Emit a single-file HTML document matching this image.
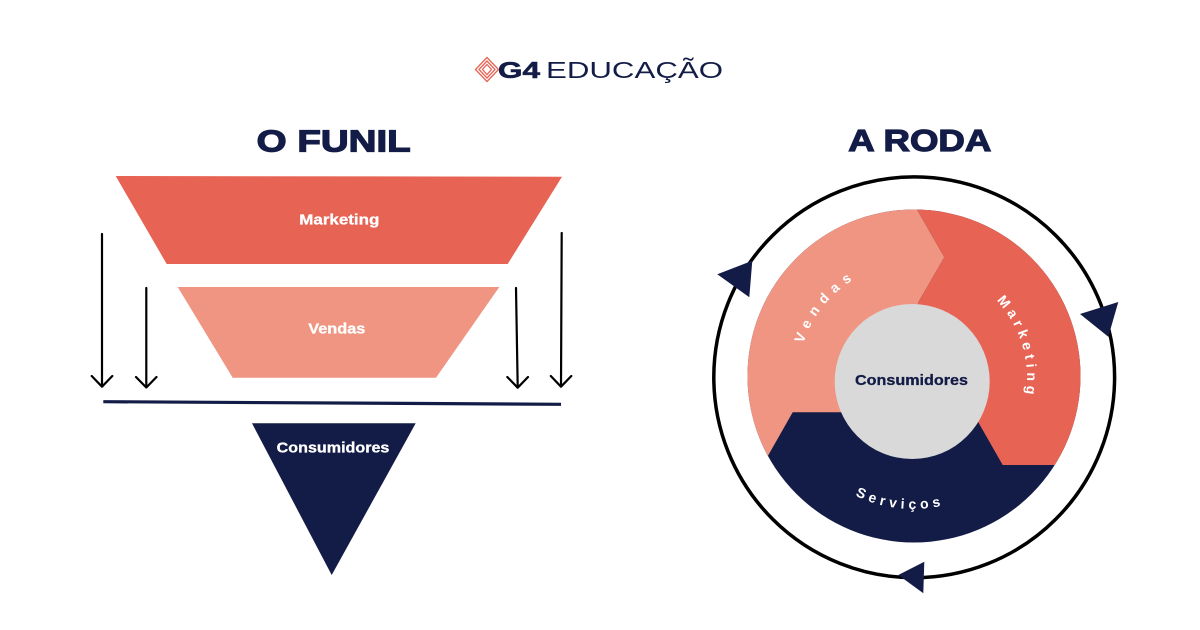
<!DOCTYPE html>
<html>
<head>
<meta charset="utf-8">
<style>
  html,body{margin:0;padding:0;background:#ffffff;}
  svg{display:block;}
  text{font-family:"Liberation Sans", "DejaVu Sans", sans-serif;}
</style>
</head>
<body>
<svg width="1200" height="630" viewBox="0 0 1200 630" xmlns="http://www.w3.org/2000/svg">
  <defs>
    <clipPath id="disk">
      <circle cx="914" cy="376" r="166.5"/>
    </clipPath>
    <path id="pV" d="M806.75,422.01 A115,115 0 0 1 928.0,264.0" fill="none"/>
    <path id="pM" d="M937.48,266.65 A114,114 0 0 1 997.19,454.87" fill="none"/>
    <path id="pS" d="M792.2,428.66 A131,131 0 0 0 1017.28,457.29" fill="none"/>
  </defs>

  <!-- Logo -->
  <g fill="none" stroke="#e76455" stroke-width="1.3">
    <polygon points="487,57.5 498.5,69.5 487,81.5 475.5,69.5"/>
    <polygon points="487,61 495,69.5 487,78 479,69.5"/>
    <polygon points="487,64.5 491.5,69.5 487,74.5 482.5,69.5"/>
  </g>
  <text x="498" y="78" font-size="23" font-weight="bold" fill="#131c46" stroke="#131c46" stroke-width="0.6" textLength="42" lengthAdjust="spacingAndGlyphs">G4</text>
  <text x="546" y="78" font-size="23" fill="#131c46" textLength="177" lengthAdjust="spacingAndGlyphs">EDUCAÇÃO</text>

  <!-- Titles -->
  <text x="256.7" y="151.7" font-size="31" font-weight="bold" fill="#131c46" stroke="#131c46" stroke-width="1.2" textLength="154" lengthAdjust="spacingAndGlyphs">O FUNIL</text>
  <text x="848.3" y="151" font-size="31" font-weight="bold" fill="#131c46" stroke="#131c46" stroke-width="1.2" textLength="143" lengthAdjust="spacingAndGlyphs">A RODA</text>

  <!-- Funnel -->
  <polygon points="115.7,176 562,176.7 507.7,264 166.7,264" fill="#e76455"/>
  <polygon points="177.7,287 499.3,287 436,377.7 232.7,377.7" fill="#ef9582"/>
  <polygon points="252,423.3 415.7,423.3 331.7,575" fill="#131c46"/>
  <text x="299.3" y="224.5" font-size="15" font-weight="bold" fill="#ffffff" stroke="#ffffff" stroke-width="0.3" textLength="80" lengthAdjust="spacingAndGlyphs">Marketing</text>
  <text x="308.3" y="333.3" font-size="15" font-weight="bold" fill="#ffffff" stroke="#ffffff" stroke-width="0.3" textLength="57" lengthAdjust="spacingAndGlyphs">Vendas</text>
  <text x="276.7" y="452.3" font-size="15" font-weight="bold" fill="#ffffff" stroke="#ffffff" stroke-width="0.3" textLength="112.7" lengthAdjust="spacingAndGlyphs">Consumidores</text>

  <!-- arrows -->
  <g stroke="#000" stroke-width="2.2" fill="none" stroke-linecap="round" stroke-linejoin="round">
    <line x1="102" y1="234" x2="102" y2="386"/>
    <polyline points="91.7,376 102,386.7 112.3,376"/>
    <line x1="146.3" y1="288" x2="146.3" y2="387"/>
    <polyline points="136,377 146.3,387.5 156.5,377"/>
    <line x1="516" y1="288" x2="517.7" y2="387"/>
    <polyline points="507.3,377 517.7,387.7 528,377"/>
    <line x1="561.7" y1="233" x2="561" y2="386"/>
    <polyline points="550.8,376 561,386.7 571.3,376"/>
  </g>
  <line x1="103.3" y1="401.7" x2="561" y2="404.3" stroke="#131c46" stroke-width="3.2"/>

  <!-- Wheel -->
  <circle cx="914.2" cy="377.3" r="200.4" fill="none" stroke="#000" stroke-width="3.5"/>
  <g clip-path="url(#disk)">
    <rect x="700" y="150" width="420" height="450" fill="#131c46"/>
    <polygon points="889,160.7 916.7,209 944.3,257.3 918.3,302.3 912,381 842.7,412.3 792.7,412.3 766,459.3 739.3,506.3 690,506.3 690,150 889,150" fill="#ef9582"/>
    <polygon points="889,160.7 916.7,209 944.3,257.3 918.3,302.3 912,381 978.3,422.3 1002.7,465 1120,465 1120,150 889,150" fill="#e76455"/>
  </g>
  <circle cx="912.2" cy="381.5" r="77.5" fill="#d9d9d9"/>
  <text x="855" y="385" font-size="15" font-weight="bold" fill="#131c46" stroke="#131c46" stroke-width="0.3" textLength="113" lengthAdjust="spacingAndGlyphs">Consumidores</text>

  <!-- curved labels -->
  <text font-size="14" font-weight="bold" fill="#ffffff" letter-spacing="6.5">
    <textPath href="#pV" startOffset="51.5%" text-anchor="middle">Vendas</textPath>
  </text>
  <text font-size="14" font-weight="bold" fill="#ffffff" letter-spacing="4.4">
    <textPath href="#pM" startOffset="51%" text-anchor="middle">Marketing</textPath>
  </text>
  <text font-size="14" font-weight="bold" fill="#ffffff" letter-spacing="4.2">
    <textPath href="#pS" startOffset="51%" text-anchor="middle">Serviços</textPath>
  </text>

  <!-- arrowheads on ring -->
  <polygon points="717.3,274.3 752.3,260.7 749.3,297.3" fill="#131c46"/>
  <polygon points="1080,314 1118.3,302 1108.3,336.7" fill="#131c46"/>
  <polygon points="898.3,575 924.3,561.7 923.3,593.3" fill="#131c46"/>
</svg>
</body>
</html>
